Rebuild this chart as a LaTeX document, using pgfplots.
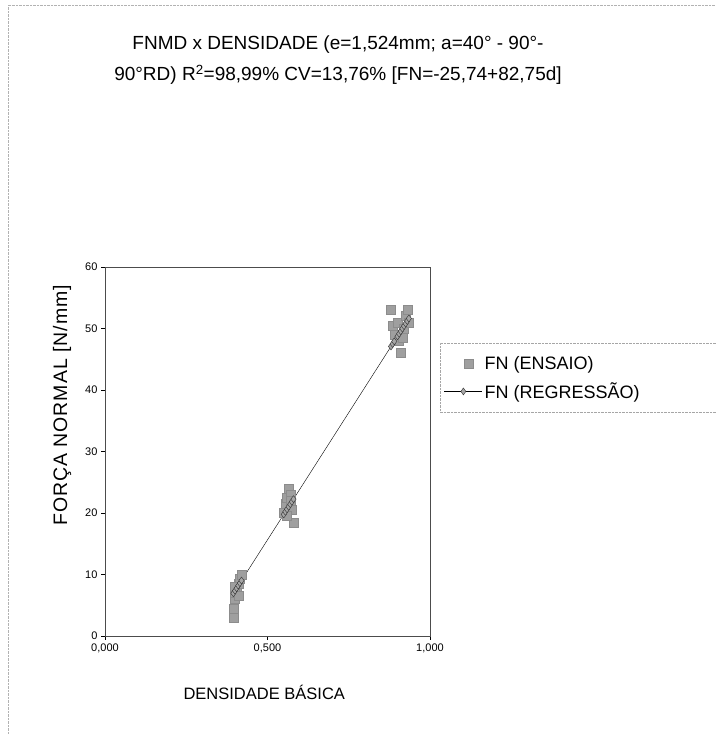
\documentclass[border=0pt]{standalone}
\usepackage{pgfplots}
\pgfplotsset{compat=1.18}
\usepackage{fontspec}
\setmainfont{Liberation Sans}
\newfontfamily\spacedfont[LetterSpace=5]{Liberation Sans}

\pgfplotstableread{
d FN
0.395 3.0
0.395 4.5
0.400 6.0
0.400 7.0
0.405 7.8
0.410 8.5
0.415 9.3
0.420 10.0
0.410 6.5
0.400 8.0
0.550 20.0
0.555 21.5
0.560 22.5
0.565 24.0
0.570 23.0
0.575 20.5
0.580 18.5
0.560 19.5
0.570 22.0
0.880 53.0
0.885 50.5
0.890 49.0
0.900 51.0
0.905 48.0
0.910 46.0
0.920 50.0
0.925 52.0
0.930 53.0
0.935 51.0
0.915 48.5
}\ensaio

\pgfplotstableread{
d FN
0.395 6.95
0.400 7.36
0.405 7.77
0.410 8.19
0.415 8.60
0.420 9.02
0.550 19.77
0.555 20.19
0.560 20.60
0.565 21.01
0.570 21.43
0.575 21.84
0.580 22.26
0.880 47.08
0.885 47.49
0.890 47.91
0.900 48.74
0.905 49.15
0.910 49.56
0.915 49.98
0.920 50.39
0.925 50.80
0.930 51.22
0.935 51.63
}\regressao

\begin{document}
\begin{tikzpicture}
\useasboundingbox (0pt,0pt) rectangle (715pt,735pt);
\draw[gray!60, densely dotted] (8pt,0pt) -- (8pt,730pt) -- (715pt,730pt);
\draw[gray!70, densely dotted] (720pt,392pt) -- (440pt,392pt) -- (440pt,323pt) -- (720pt,323pt);
\node[align=center, font=\fontsize{19}{31}\selectfont] at (338pt,675pt)
  {FNMD x DENSIDADE (e=1,524mm; a=40\textdegree\ - 90\textdegree-\\90\textdegree RD) R\textsuperscript{2}=98,99\% CV=13,76\% [FN=-25,74+82,75d]};
\begin{axis}[
  at={(105pt,99pt)}, anchor=south west,
  width=325pt, height=369pt, scale only axis,
  xmin=0, xmax=1, ymin=0, ymax=60,
  xtick={0,0.5,1}, xticklabels={{0,000},{0,500},{1,000}},
  ytick={0,10,...,60},
  tick align=outside, major tick length=4pt,
  tick style={black, thin},
  xtick pos=bottom, ytick pos=left,
  axis line style={black!70, thin},
  /pgf/number format/assume math mode=true,
  tick label style={font=\fontsize{11}{13}\selectfont},
  xlabel={DENSIDADE BÁSICA},
  ylabel={FORÇA NORMAL [N/mm]},
  xlabel style={font=\fontsize{16.5}{18}\selectfont, at={(rel axis cs:0.49,-0.152)}, anchor=center},
  ylabel style={font=\spacedfont\fontsize{19.5}{21}\selectfont, at={(rel axis cs:-0.132,0.625)}, anchor=center},
  legend style={at={(rel axis cs:1.043,0.775)}, anchor=north west,
    draw=none, fill=none, font=\fontsize{18}{20}\selectfont,
    row sep=8pt, inner xsep=0pt, inner ysep=4pt},
  legend cell align=left,
]
\addplot[only marks, mark=square*, mark size=4.5pt, mark options={fill=gray!75, draw=gray!90, solid},
  legend image code/.code={\node[draw=gray!90, fill=gray!75, minimum size=9pt, inner sep=0pt] at (20pt,0pt) {};}
  ] table[x=d,y=FN] {\ensaio};
\addlegendentry{FN (ENSAIO)}
\addplot[black, thin, solid, mark=diamond*, mark size=3.5pt, mark options={fill=gray!70, draw=black!80, solid},
  legend image code/.code={\draw[black, thin] (0pt,0pt) -- (38pt,0pt);
    \draw[black!80, fill=gray!70] (19pt,3.5pt) -- (21.5pt,0pt) -- (19pt,-3.5pt) -- (16.5pt,0pt) -- cycle;}
  ] table[x=d,y=FN] {\regressao};
\addlegendentry{FN (REGRESSÃO)}
\end{axis}
\end{tikzpicture}
\end{document}
